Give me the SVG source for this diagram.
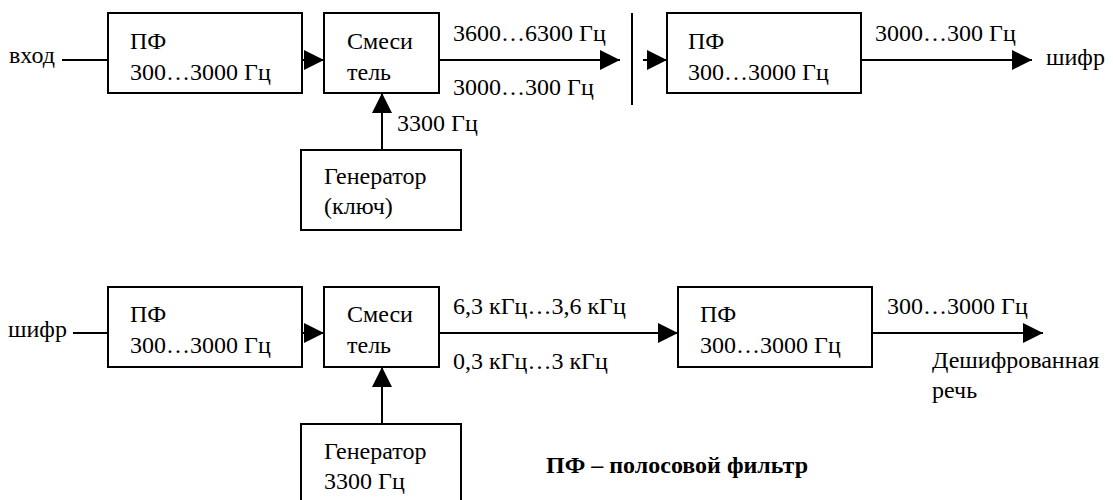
<svg xmlns="http://www.w3.org/2000/svg" width="1113" height="500" viewBox="0 0 1113 500" font-family="Liberation Serif, Times New Roman, serif" font-size="24">
  <style>
    .box { fill: #fff; stroke: #000; stroke-width: 2; }
    .wire { fill: none; stroke: #000; stroke-width: 2; }
  </style>
  <defs>
    <marker id="arrow" markerUnits="userSpaceOnUse" markerWidth="20" markerHeight="20" viewBox="0 0 18 18" refX="18" refY="9" orient="auto">
      <path d="M0,0 L18,9 L0,18 Z" fill="#000"/>
    </marker>
  </defs>

  <!-- Encryption chain -->
  <g id="pf1">
    <rect class="box" x="108" y="13" width="194" height="80"/>
    <text x="130" y="49">ПФ</text>
    <text x="130" y="80">300…3000 Гц</text>
  </g>
  <g id="mixer1">
    <rect class="box" x="324" y="13" width="115" height="80"/>
    <text x="347" y="49">Смеси</text>
    <text x="347" y="80">тель</text>
  </g>
  <g id="gen1">
    <rect class="box" x="301" y="150" width="160" height="80"/>
    <text x="324" y="184">Генератор</text>
    <text x="324" y="214">(ключ)</text>
  </g>
  <g id="pf2">
    <rect class="box" x="667" y="13" width="194" height="80"/>
    <text x="688" y="49">ПФ</text>
    <text x="688" y="80">300…3000 Гц</text>
  </g>

  <!-- Decryption chain -->
  <g id="pf3">
    <rect class="box" x="108" y="287" width="194" height="80"/>
    <text x="130" y="322">ПФ</text>
    <text x="130" y="353">300…3000 Гц</text>
  </g>
  <g id="mixer2">
    <rect class="box" x="324" y="287" width="115" height="80"/>
    <text x="347" y="322">Смеси</text>
    <text x="347" y="353">тель</text>
  </g>
  <g id="gen2">
    <rect class="box" x="301" y="424" width="160" height="90"/>
    <text x="324" y="459">Генератор</text>
    <text x="324" y="489">3300 Гц</text>
  </g>
  <g id="pf4">
    <rect class="box" x="678" y="287" width="194" height="80"/>
    <text x="700" y="322">ПФ</text>
    <text x="700" y="353">300…3000 Гц</text>
  </g>

  <g id="connectors">
    <!-- top row -->
    <line class="wire" x1="62" y1="60" x2="108" y2="60"/>
    <line class="wire" x1="302" y1="60" x2="324" y2="60" marker-end="url(#arrow)"/>
    <line class="wire" x1="439" y1="60" x2="620" y2="60" marker-end="url(#arrow)"/>
    <line class="wire" x1="632" y1="13" x2="632" y2="105"/>
    <line class="wire" x1="643" y1="60" x2="667" y2="60" marker-end="url(#arrow)"/>
    <line class="wire" x1="861" y1="60" x2="1032" y2="60" marker-end="url(#arrow)"/>
    <line class="wire" x1="382" y1="150" x2="382" y2="93" marker-end="url(#arrow)"/>
    <!-- bottom row -->
    <line class="wire" x1="73" y1="333" x2="108" y2="333"/>
    <line class="wire" x1="302" y1="333" x2="324" y2="333" marker-end="url(#arrow)"/>
    <line class="wire" x1="439" y1="333" x2="678" y2="333" marker-end="url(#arrow)"/>
    <line class="wire" x1="872" y1="333" x2="1043" y2="333" marker-end="url(#arrow)"/>
    <line class="wire" x1="382" y1="424" x2="382" y2="367" marker-end="url(#arrow)"/>
  </g>

  <g id="labels">
    <text x="9" y="63">вход</text>
    <text x="453" y="41">3600…6300 Гц</text>
    <text x="453" y="95">3000…300 Гц</text>
    <text x="397" y="131">3300 Гц</text>
    <text x="875" y="41">3000…300 Гц</text>
    <text x="1046" y="65">шифр</text>
    <text x="8" y="337">шифр</text>
    <text x="453" y="314">6,3 кГц…3,6 кГц</text>
    <text x="453" y="369">0,3 кГц…3 кГц</text>
    <text x="887" y="314">300…3000 Гц</text>
    <text x="932" y="368">Дешифрованная</text>
    <text x="932" y="398">речь</text>
    <text x="546" y="473" font-weight="bold">ПФ – полосовой фильтр</text>
  </g>
</svg>
